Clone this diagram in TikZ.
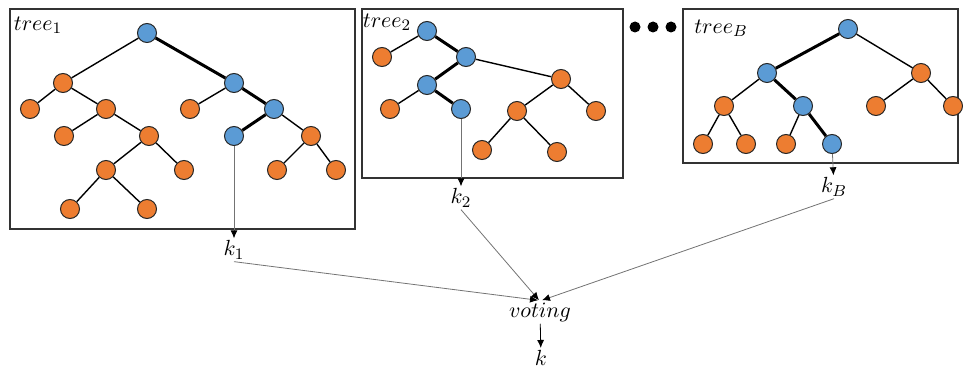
\documentclass[tikz,border=0pt]{standalone}
\usepackage{amsmath}
\usepackage{tikz}
\usetikzlibrary{arrows.meta, positioning}

\definecolor{nodeblue}{RGB}{91,155,213}
\definecolor{nodeorange}{RGB}{237,125,49}

\begin{document}
\begin{tikzpicture}[
    x=0.5pt, y=-0.5pt,
    >={Latex[length=4pt,width=3.5pt,black]},
    every node/.style={font=\fontsize{11}{13}\selectfont},
    onode/.style={circle, draw=black!85, fill=nodeorange, minimum size=9.5pt, inner sep=0pt, line width=0.5pt},
    bnode/.style={onode, fill=nodeblue},
    dotnode/.style={circle, fill=black, minimum size=5.5pt, inner sep=0pt},
    lbl/.style={inner sep=1pt},
    edge/.style={line width=0.7pt},
    pathedge/.style={line width=1.5pt},
    treebox/.style={draw=black!80, line width=0.7pt},
    vote/.style={->, draw=black!55, line width=0.4pt}
]
\useasboundingbox (0,0) rectangle (963,369);

% boxes round the trees
\draw[treebox] (10,9) rectangle (355,229);
\draw[treebox] (362,9) rectangle (623,178);
\draw[treebox] (683,9) rectangle (958,163);

\node[lbl] (lab1) at (38,25) {$tree_1$};
\node[lbl] (lab2) at (387,22) {$tree_2$};
\node[lbl] (lab3) at (721,28) {$tree_B$};

\node[dotnode] (dot1) at (635,27) {};
\node[dotnode] (dot2) at (653,27) {};
\node[dotnode] (dot3) at (671,27) {};

% tree 1
\node[bnode] (t1_1)  at (147,33)  {};
\node[onode] (t1_2)  at (63,83)   {};
\node[bnode] (t1_3)  at (234,83)  {};
\node[onode] (t1_4)  at (30,109)  {};
\node[onode] (t1_5)  at (106,109) {};
\node[onode] (t1_6)  at (64,136)  {};
\node[onode] (t1_7)  at (149,136) {};
\node[onode] (t1_8)  at (106,170) {};
\node[onode] (t1_9)  at (184,170) {};
\node[onode] (t1_10) at (70,209)  {};
\node[onode] (t1_11) at (147,209) {};
\node[onode] (t1_12) at (190,109) {};
\node[bnode] (t1_13) at (274,109) {};
\node[bnode] (t1_14) at (234,136) {};
\node[onode] (t1_15) at (311,136) {};
\node[onode] (t1_16) at (277,170) {};
\node[onode] (t1_17) at (336,170) {};

\foreach \a/\b in {1/2,2/4,2/5,5/6,5/7,7/8,7/9,8/10,8/11,3/12,13/15,15/16,15/17}
    \draw[edge] (t1_\a) -- (t1_\b);
\foreach \a/\b in {1/3,3/13,13/14}
    \draw[pathedge] (t1_\a) -- (t1_\b);

% tree 2
\node[bnode] (t2_1)  at (427,31)  {};
\node[onode] (t2_2)  at (382,57)  {};
\node[bnode] (t2_3)  at (466,57)  {};
\node[bnode] (t2_4)  at (427,85)  {};
\node[onode] (t2_5)  at (561,79)  {};
\node[onode] (t2_6)  at (390,109) {};
\node[bnode] (t2_7)  at (461,109) {};
\node[onode] (t2_8)  at (517,111) {};
\node[onode] (t2_9)  at (596,111) {};
\node[onode] (t2_10) at (482,150) {};
\node[onode] (t2_11) at (557,152) {};

\foreach \a/\b in {1/2,3/5,4/6,5/8,5/9,8/10,8/11}
    \draw[edge] (t2_\a) -- (t2_\b);
\foreach \a/\b in {1/3,3/4,4/7}
    \draw[pathedge] (t2_\a) -- (t2_\b);

% tree B
\node[bnode] (t3_1)  at (848,29)  {};
\node[bnode] (t3_2)  at (767,73)  {};
\node[onode] (t3_3)  at (921,73)  {};
\node[onode] (t3_4)  at (724,106) {};
\node[bnode] (t3_5)  at (803,106) {};
\node[onode] (t3_6)  at (876,106) {};
\node[onode] (t3_7)  at (953,106) {};
\node[onode] (t3_8)  at (703,144) {};
\node[onode] (t3_9)  at (746,144) {};
\node[onode] (t3_10) at (786,144) {};
\node[bnode] (t3_11) at (832,144) {};

\foreach \a/\b in {1/3,2/4,3/6,3/7,4/8,4/9,5/10}
    \draw[edge] (t3_\a) -- (t3_\b);
\foreach \a/\b in {1/2,2/5,5/11}
    \draw[pathedge] (t3_\a) -- (t3_\b);

% outputs and voting
\node[lbl] (k1) at (234,250) {$k_1$};
\node[lbl] (k2) at (461,198) {$k_2$};
\node[lbl] (kB) at (834,187) {$k_B$};
\node[lbl] (voting) at (540,312) {$voting$};
\node[lbl] (k) at (541,358) {$k$};

\draw[vote] (t1_14) -- (k1);
\draw[vote] (t2_7) -- (k2);
\draw[vote] (t3_11) -- (kB);

\draw[vote] (k1.south) -- ([xshift=-1pt]voting.north);
\draw[vote] (k2.south) -- ([xshift=-0.5pt]voting.north);
\draw[vote] (kB.south) -- ([xshift=1pt]voting.north);
\draw[vote, draw=black] (voting) -- (k);

\end{tikzpicture}
\end{document}
